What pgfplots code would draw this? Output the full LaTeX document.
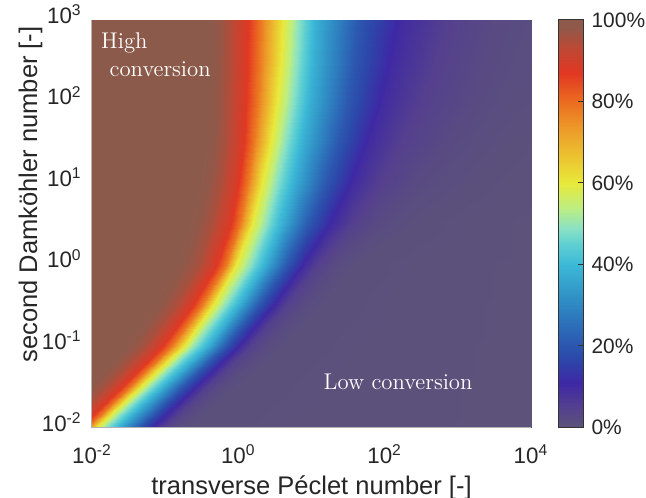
\documentclass[border=0pt]{standalone}
\usepackage{fontspec}
\setsansfont{Liberation Sans}
\usepackage{pgfplots}
\pgfplotsset{compat=1.18}

% conversion colormap (0..100 %)
\pgfplotsset{
  colormap={conv}{
    rgb255(0cm)=(92,82,122); rgb255(5cm)=(84,64,142); rgb255(11cm)=(62,40,165);
    rgb255(17cm)=(44,72,170); rgb255(24cm)=(44,105,183); rgb255(32cm)=(48,145,198);
    rgb255(40cm)=(60,185,215); rgb255(45cm)=(95,208,210); rgb255(49cm)=(140,226,195);
    rgb255(54cm)=(190,238,128); rgb255(60cm)=(232,233,58); rgb255(67cm)=(236,192,48);
    rgb255(74cm)=(237,150,40); rgb255(80cm)=(235,108,32); rgb255(87cm)=(226,55,35);
    rgb255(93cm)=(190,72,52); rgb255(98cm)=(145,88,73); rgb255(100cm)=(140,90,75)
  }
}

% contour positions read per row: p = log10(Pe), d = log10(Da), c = conversion [%]
\pgfplotstableread{
p d c
-3 -2 100
-2.6 -2 100
-2.35 -2 95
-2.17 -2 88
-2.07 -2 78
-1.95 -2 60
-1.83 -2 50
-1.65 -2 38
-1.36 -2 20
-1.16 -2 10
-1.03 -2 5
-0.88 -2 2
-0.65 -2 0.5
4.2 -2 0
-3 -1.5 100
-2.075 -1.5 100
-1.805 -1.5 95
-1.605 -1.5 88
-1.485 -1.5 78
-1.345 -1.5 60
-1.225 -1.5 50
-1.035 -1.5 38
-0.765 -1.5 20
-0.57 -1.5 10
-0.435 -1.5 5
-0.255 -1.5 2
0.005 -1.5 0.5
4.2 -1.5 0
-3 -1 100
-1.55 -1 100
-1.26 -1 95
-1.04 -1 88
-0.90 -1 78
-0.74 -1 60
-0.62 -1 50
-0.42 -1 38
-0.17 -1 20
0.02 -1 10
0.16 -1 5
0.37 -1 2
0.66 -1 0.5
4.2 -1 0
-3 -0.5 100
-1.16 -0.5 100
-0.855 -0.5 95
-0.635 -0.5 88
-0.495 -0.5 78
-0.345 -0.5 60
-0.20 -0.5 50
0.015 -0.5 38
0.285 -0.5 20
0.50 -0.5 10
0.655 -0.5 5
0.88 -0.5 2
1.195 -0.5 0.5
4.2 -0.5 0
-3 0 100
-0.85 0 100
-0.53 0 95
-0.31 0 88
-0.17 0 78
-0.03 0 60
0.14 0 50
0.37 0 38
0.66 0 20
0.90 0 10
1.07 0 5
1.31 0 2
1.65 0 0.5
4.2 0 0
-3 0.5 100
-0.66 0.5 100
-0.36 0.5 95
-0.12 0.5 88
0.02 0.5 78
0.19 0.5 60
0.36 0.5 50
0.60 0.5 38
0.97 0.5 20
1.28 0.5 10
1.55 0.5 5
1.92 0.5 2
2.5 0.5 0.5
4.2 0.5 0
-3 1 100
-0.52 1 100
-0.24 1 95
-0.01 1 88
0.13 1 78
0.32 1 60
0.50 1 50
0.76 1 38
1.20 1 20
1.57 1 10
1.94 1 5
2.45 1 2
3.3 1 0.5
4.2 1 0.1
-3 1.5 100
-0.43 1.5 100
-0.17 1.5 95
0.06 1.5 88
0.21 1.5 78
0.44 1.5 60
0.63 1.5 50
0.89 1.5 38
1.37 1.5 20
1.78 1.5 10
2.22 1.5 5
2.9 1.5 2
3.7 1.5 0.6
4.2 1.5 0.3
-3 2 100
-0.40 2 100
-0.15 2 95
0.09 2 88
0.27 2 78
0.53 2 60
0.72 2 50
0.98 2 38
1.51 2 20
1.98 2 10
2.50 2 5
3.25 2 2
3.8 2 1.1
4.2 2 0.8
-3 2.5 100
-0.39 2.5 100
-0.14 2.5 95
0.11 2.5 88
0.30 2.5 78
0.58 2.5 60
0.77 2.5 50
1.03 2.5 38
1.59 2.5 20
2.12 2.5 10
2.70 2.5 5
3.42 2.5 2
3.85 2.5 1.4
4.2 2.5 1.0
-3 3 100
-0.38 3 100
-0.14 3 95
0.12 3 88
0.31 3 78
0.61 3 60
0.80 3 50
1.06 3 38
1.65 3 20
2.24 3 10
2.85 3 5
3.55 3 2
3.9 3 1.6
4.2 3 1.2
}\convdata

\begin{document}
\begin{tikzpicture}
\begin{axis}[
  scale only axis,
  width=219.5bp, height=203.75bp,
  xmin=-2, xmax=4, ymin=-2, ymax=3,
  xtick={-2,0,2,4},
  xticklabels={10\textsuperscript{-2},10\textsuperscript{0},10\textsuperscript{2},10\textsuperscript{4}},
  ytick={-2,-1,0,1,2,3},
  yticklabels={10\textsuperscript{-2},10\textsuperscript{-1},10\textsuperscript{0},10\textsuperscript{1},10\textsuperscript{2},10\textsuperscript{3}},
  major tick length=0pt,
  axis x line*=bottom, axis y line*=left,
  axis line style={black!30, line width=0.5bp},
  tick label style={font=\sffamily\fontsize{11.2}{13}\selectfont, text=black!85, inner sep=0pt},
  xticklabel style={anchor=base, yshift=-18bp},
  yticklabel style={anchor=base east, xshift=-5bp, yshift=-1.75bp},
  label style={font=\sffamily\fontsize{12.8}{15}\selectfont, text=black!85, inner sep=0pt},
  xlabel={transverse Péclet number [-]},
  ylabel={second Damköhler number [-]},
  xlabel style={at={(axis description cs:0.5,0)}, anchor=base, yshift=-33.5bp},
  ylabel style={at={(axis description cs:0,0.572)}, anchor=base, yshift=27.5bp},
  colormap name=conv,
  point meta min=0, point meta max=100,
  colorbar,
  colorbar style={
    at={(parent axis.north east)}, anchor=north west, xshift=5.1bp,
    scale only axis, width=12.4bp, height=203.75bp,
    ytick={0,20,40,60,80,100},
    yticklabels={0\%,20\%,40\%,60\%,80\%,100\%},
    ytick pos=right, yticklabel pos=right,
    tick align=inside, major tick length=2.5bp,
    ytick style={black!80, line width=0.5bp},
    axis line style={black!80, line width=0.5bp},
    yticklabel style={font=\sffamily\fontsize{10.5}{12}\selectfont, text=black!85,
      inner sep=0pt, anchor=west, xshift=4.1bp},
  },
  axis on top,
]
\addplot[surf, shader=interp, mesh/cols=14, point meta=explicit]
  table[x=p, y=d, meta=c] {\convdata};

\node[anchor=base west, inner sep=0pt, text=white, font=\rmfamily\fontsize{11.4}{13}\selectfont]
  at (axis cs:-1.88,2.647) {High};
\node[anchor=base west, inner sep=0pt, text=white, font=\rmfamily\fontsize{11.4}{13}\selectfont]
  at (axis cs:-1.763,2.303) {conversion};
\node[anchor=base west, inner sep=0pt, text=white, font=\rmfamily\fontsize{11.4}{13}\selectfont]
  at (axis cs:1.161,-1.534) {Low conversion};
\coordinate (ll) at (rel axis cs:0,0);
\end{axis}
% page the size of the reference, axis box placed as in it
\pgfresetboundingbox
\path[use as bounding box] ([shift={(-46bp,-35bp)}]ll) rectangle ([shift={(277bp,213.75bp)}]ll);
\end{tikzpicture}
\end{document}
